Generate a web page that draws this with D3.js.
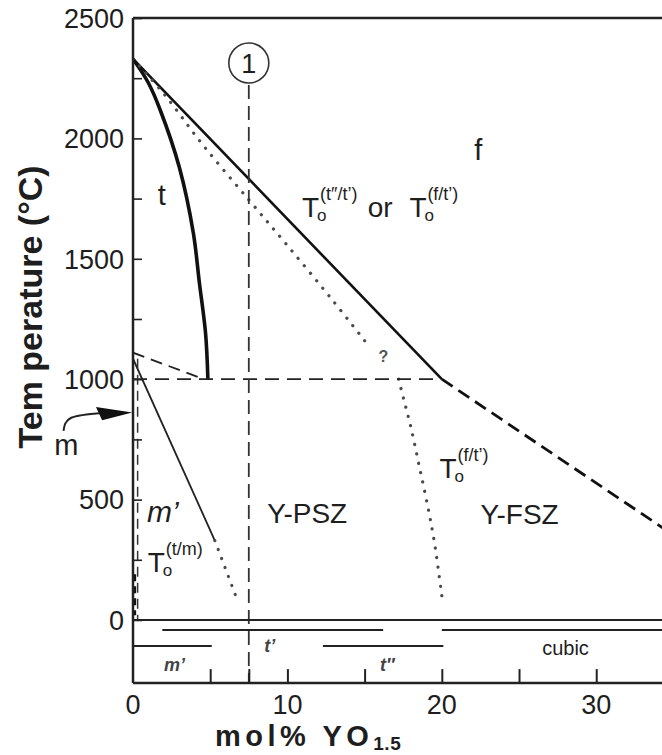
<!DOCTYPE html>
<html>
<head>
<meta charset="utf-8">
<script src="https://cdn.jsdelivr.net/npm/d3@7"></script>
<style>
  body { margin: 0; background: #fff; }
  text { font-family: "Liberation Sans", Arial, sans-serif; fill: #1e1e1e; }
</style>
</head>
<body>
<script>
// axis ticks
const tempTicks = [0, 500, 1000, 1500, 2000, 2500];
const tempMinorTicks = [250, 750, 1250, 1750, 2250];
const molTicks = [5, 7.5, 10, 15, 20, 25, 30];
const molLabels = [0, 10, 20, 30];

// phase boundaries, [mol% YO1.5, temperature]
const toLine = [[0, 2330], [20, 1000]];
const tBoundary = [[0, 2330], [1, 2230], [1.75, 2120], [3, 1880], [3.9, 1610], [4.3, 1400], [4.7, 1190], [4.85, 1000]];
const upperDotted = [[0, 2330], [2, 2185], [4.5, 1975], [7.5, 1745], [10, 1555], [12.9, 1330], [15, 1160]];
const lowerDotted = [[17.2, 1000], [17.6, 900], [18, 800], [18.5, 650], [19, 500], [19.5, 330], [20, 100]];
const tmSolid = [[0, 1085], [5.3, 330]];
const tmDotted = [[5.3, 330], [6.8, 75]];
const eutectoid = [[0, 1000], [20, 1000]];
const monoDashed = [[0, 1110], [4.6, 1000]];
const cubicDashed = [[20, 1000], [34.3, 383]];
const mEdgeDashed = [[0.3, 1085], [0.3, 0]];
const mEdgeThick = [[0.1, 190], [0.1, 20]];
const section1 = [[7.5, 2222], [7.5, -262]];

// metastable phase ranges under the axis
const barLevel = [-42, -42, -108, -108];
const barFrom = [1.9, 20, 0, 12.3];
const barTo = [16.2, 34.3, 5.1, 20.1];
const barNames = ["m\u2019", "t\u2019", "t\u2033", "cubic"];

const createVisualization = () => {
  const w = 662;
  const h = 755;
  const svg = d3.select("body")
    .append("svg")
    .attr("width", w)
    .attr("height", h);

  const x = d3.scaleLinear().domain([0, 34.26]).range([133, 662]);
  const y = d3.scaleLinear().domain([0, 2500]).range([620, 18]);
  const bottom = y(-262);

  const line = d3.line().x(d => x(d[0])).y(d => y(d[1]));
  const curve = d3.line().x(d => x(d[0])).y(d => y(d[1])).curve(d3.curveCatmullRom);

  svg.append("clipPath").attr("id", "plot")
    .append("rect")
    .attr("x", x(0)).attr("y", y(2500))
    .attr("width", w - x(0)).attr("height", bottom - y(2500));

  const plot = svg.append("g").attr("clip-path", "url(#plot)");

  // frame
  svg.append("line").attr("x1", x(0)).attr("x2", w).attr("y1", y(2500)).attr("y2", y(2500))
    .attr("stroke", "#222").attr("stroke-width", 2.5);
  svg.append("line").attr("x1", x(0)).attr("x2", w).attr("y1", bottom).attr("y2", bottom)
    .attr("stroke", "#222").attr("stroke-width", 2.5);
  svg.append("line").attr("x1", x(0)).attr("x2", w).attr("y1", y(0)).attr("y2", y(0))
    .attr("stroke", "#222").attr("stroke-width", 2);

  // y axis
  svg.append("g")
    .attr("transform", `translate(${x(0)},0)`)
    .call(d3.axisRight(y).tickValues(tempTicks.concat(tempMinorTicks)).tickSize(9).tickFormat(""))
    .call(g => g.select(".domain").attr("d", `M0,${y(2500)}V${bottom}`).attr("stroke", "#222").attr("stroke-width", 2.5))
    .call(g => g.selectAll(".tick line").attr("stroke", "#222").attr("stroke-width", 1.6));

  svg.selectAll(".ylab")
    .data(tempTicks)
    .enter()
    .append("text")
    .attr("x", 124)
    .attr("y", d => y(d))
    .attr("dy", "0.36em")
    .attr("text-anchor", "end")
    .style("font-size", "27px")
    .text(d => d);

  // x axis
  svg.append("g")
    .attr("transform", `translate(0,${bottom})`)
    .call(d3.axisTop(x).tickValues(molTicks).tickSize(14).tickFormat(""))
    .call(g => g.select(".domain").remove())
    .call(g => g.selectAll(".tick line").attr("stroke", "#222").attr("stroke-width", 2));

  svg.selectAll(".xlab")
    .data(molLabels)
    .enter()
    .append("text")
    .attr("x", d => x(d))
    .attr("y", bottom + 21)
    .attr("dy", "0.36em")
    .attr("text-anchor", "middle")
    .style("font-size", "27px")
    .text(d => d);

  // axis titles
  svg.append("text")
    .attr("transform", `translate(42,${y(1300)}) rotate(-90)`)
    .attr("text-anchor", "middle")
    .style("font-size", "34px")
    .style("font-weight", "bold")
    .text("Tem perature (\u00B0C)");

  const xt = svg.append("text")
    .attr("x", 215)
    .attr("y", 746)
    .style("font-size", "29px")
    .style("font-weight", "bold")
    .style("letter-spacing", "4.5px");
  xt.append("tspan").text("mol% YO");
  xt.append("tspan").attr("dy", 4).style("font-size", "19px").style("letter-spacing", "0.5px").text("1.5");

  // phase boundary lines
  plot.append("path").attr("d", line(toLine))
    .attr("fill", "none").attr("stroke", "#111").attr("stroke-width", 2.6);
  plot.append("path").attr("d", curve(tBoundary))
    .attr("fill", "none").attr("stroke", "#111").attr("stroke-width", 3.6);
  plot.append("path").attr("d", line(tmSolid))
    .attr("fill", "none").attr("stroke", "#222").attr("stroke-width", 1.8);

  [upperDotted, lowerDotted, tmDotted].forEach(pts => {
    plot.append("path").attr("d", curve(pts))
      .attr("fill", "none").attr("stroke", "#4a4a4a").attr("stroke-width", 3.2)
      .attr("stroke-linecap", "round").attr("stroke-dasharray", "0.1 9.5");
  });

  plot.append("path").attr("d", line(eutectoid))
    .attr("fill", "none").attr("stroke", "#222").attr("stroke-width", 1.8).attr("stroke-dasharray", "14 8");
  plot.append("path").attr("d", line(monoDashed))
    .attr("fill", "none").attr("stroke", "#222").attr("stroke-width", 1.8).attr("stroke-dasharray", "12 7");
  plot.append("path").attr("d", line(cubicDashed))
    .attr("fill", "none").attr("stroke", "#111").attr("stroke-width", 2.8).attr("stroke-dasharray", "13 7");
  plot.append("path").attr("d", line(mEdgeDashed))
    .attr("fill", "none").attr("stroke", "#333").attr("stroke-width", 1.5).attr("stroke-dasharray", "10 6");
  plot.append("path").attr("d", line(mEdgeThick))
    .attr("fill", "none").attr("stroke", "#111").attr("stroke-width", 3.2).attr("stroke-dasharray", "7 5");
  plot.append("path").attr("d", line(section1))
    .attr("fill", "none").attr("stroke", "#333").attr("stroke-width", 1.8).attr("stroke-dasharray", "14 7");

  // section marker
  svg.append("circle")
    .attr("cx", x(7.5)).attr("cy", y(2313)).attr("r", 20)
    .attr("fill", "none").attr("stroke", "#333").attr("stroke-width", 1.6);
  svg.append("text")
    .attr("x", x(7.5)).attr("y", y(2313)).attr("dy", "0.36em")
    .attr("text-anchor", "middle").style("font-size", "27px").text("1");

  // phase bars
  svg.selectAll(".bar")
    .data(barLevel)
    .enter()
    .append("line")
    .attr("x1", (d, i) => x(barFrom[i]))
    .attr("x2", (d, i) => Math.min(x(barTo[i]), w))
    .attr("y1", d => y(d))
    .attr("y2", d => y(d))
    .attr("stroke", "#222")
    .attr("stroke-width", 2);

  const barLab = (name, mx, t, size, italic) => {
    svg.append("text").attr("x", x(mx)).attr("y", y(t))
      .style("font-size", size + "px")
      .style("font-style", italic ? "italic" : "normal")
      .style("font-weight", italic ? "bold" : "normal")
      .style("fill", italic ? "#444" : "#1e1e1e")
      .text(name);
  };
  barLab(barNames[0], 2.0, -212, 18, true);
  barLab(barNames[1], 8.5, -133, 18, true);
  barLab(barNames[2], 16.0, -212, 18, true);
  barLab(barNames[3], 26.5, -145, 20, false);

  // region labels
  const label = (txt, mx, t, size, italic) => {
    svg.append("text").attr("x", x(mx)).attr("y", y(t))
      .style("font-size", size + "px")
      .style("font-style", italic ? "italic" : "normal")
      .text(txt);
  };
  label("t", 1.6, 1723, 29);
  label("f", 22.1, 1910, 29);
  label("Y-PSZ", 8.7, 403, 28);
  label("Y-FSZ", 22.5, 399, 28);
  label("m\u2019", 0.9, 407, 30, true);
  label("m", -5.1, 685, 29);
  svg.append("text").attr("x", x(15.9)).attr("y", y(1072))
    .style("font-size", "16px").style("font-weight", "bold").style("fill", "#555").text("?");

  // T0 labels: T with subscript o and superscript phase pair, one text each
  const tZero = (mx, t, sup, tail) => {
    const bx = x(mx);
    const by = y(t);
    const tx = svg.append("text").attr("x", bx).attr("y", by).style("font-size", "28px");
    tx.append("tspan").text("T");
    tx.append("tspan").attr("x", bx + 15).attr("dy", 4).style("font-size", "17px").text("o");
    tx.append("tspan").attr("x", bx + 18).attr("dy", -21).style("font-size", "18px").text(sup);
    if (tail) {
      tx.append("tspan").attr("x", x(15.2)).attr("dy", 17).text(tail);
    }
  };
  tZero(10.95, 1674, "(t\u2033/t\u2019)", "or");
  tZero(17.9, 1674, "(f/t\u2019)");
  tZero(19.85, 590, "(f/t\u2019)");
  tZero(0.95, 200, "(t/m)");

  // arrow pointing at the m transformation temperature
  const arrowPath = [[-4.5, 785], [-4.0, 840], [-2.0, 860]];
  svg.append("path").attr("d", d3.line().x(d => x(d[0])).y(d => y(d[1])).curve(d3.curveNatural)(arrowPath))
    .attr("fill", "none").attr("stroke", "#222").attr("stroke-width", 2);
  const headPts = [[-2.4, 885], [-0.05, 862], [-2.0, 830]];
  svg.append("path").attr("d", line(headPts) + "Z").attr("fill", "#111");
};

createVisualization();
</script>
</body>
</html>
